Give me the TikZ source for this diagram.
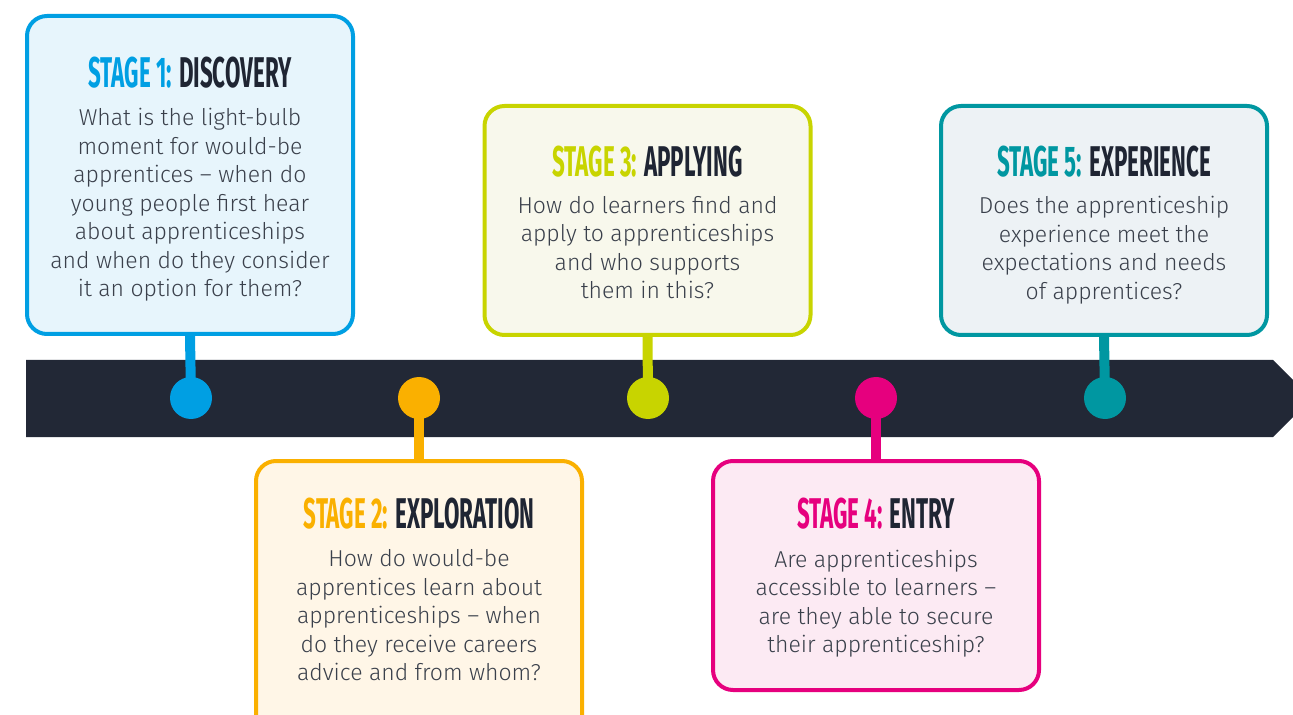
\documentclass[tikz,border=0pt]{standalone}
\usepackage{fontspec}
\usepackage{xcolor}
\usetikzlibrary{backgrounds}
\usetikzlibrary{calc}
\newfontfamily\stgfont[FakeStretch=0.52]{Fira Sans}
\newfontfamily\stgbody{Fira Sans Light}
\definecolor{stgbar}{HTML}{222836}
\definecolor{stgtext}{HTML}{3A404B}
\definecolor{stgdark}{HTML}{1F2533}
\definecolor{stgblue}{HTML}{009FE3}
\definecolor{stgbluebg}{HTML}{E7F5FC}
\definecolor{stgorange}{HTML}{FAB000}
\definecolor{stgorangebg}{HTML}{FFF6E7}
\definecolor{stglime}{HTML}{C8D400}
\definecolor{stglimebg}{HTML}{F8F8EC}
\definecolor{stgpink}{HTML}{E6007E}
\definecolor{stgpinkbg}{HTML}{FCEAF3}
\definecolor{stgteal}{HTML}{0097A1}
\definecolor{stgtealbg}{HTML}{EDF2F5}
\newcommand{\stgw}{163pt}
\newcommand{\stghtall}{159pt}
\newcommand{\stghlow}{114.5pt}
\newcommand{\stgdot}{21pt}
\newcommand{\stgtitle}[3]{{\color{#1}STAGE #2:} {\color{stgdark}#3}}

\begin{document}
\begin{tikzpicture}[x=0.5pt,y=-0.5pt,
    stage/.style={draw=#1,fill=#1bg,line width=2pt,rounded corners=10pt,
      minimum width=\stgw,inner sep=0pt},
    dot/.style={circle,fill=#1,minimum size=\stgdot,inner sep=0pt},
    stem/.style={draw=#1,line width=5pt},
    ttl/.style={anchor=base,inner sep=0pt,
      font=\stgfont\bfseries\fontsize{21.5}{21.5}\selectfont},
    body/.style={anchor=north,inner sep=0pt,align=center,text=stgtext,
      font=\stgbody\fontsize{11.5}{14.25}\selectfont,
      execute at begin node=\strut}]
    \useasboundingbox (0,0) rectangle (1293,715);

    \node (s1) at (190,175) [stage=stgblue,minimum height=\stghtall] {};
    \node (s2) at (419,620) [stage=stgorange,minimum height=\stghtall] {};
    \node (s3) at (647.5,220.5) [stage=stglime,minimum height=\stghlow] {};
    \node (s4) at (876,575.5) [stage=stgpink,minimum height=\stghlow] {};
    \node (s5) at (1104,220.5) [stage=stgteal,minimum height=\stghlow] {};

    \node (d1) at (191,398) [dot=stgblue] {};
    \node (d2) at (419,398) [dot=stgorange] {};
    \node (d3) at (648,398) [dot=stglime] {};
    \node (d4) at (876,398) [dot=stgpink] {};
    \node (d5) at (1105,398) [dot=stgteal] {};

    \node (t1) at (190,88) [ttl] {\stgtitle{stgblue}{1}{DISCOVERY}};
    \node (t2) at (419,528) [ttl] {\stgtitle{stgorange}{2}{EXPLORATION}};
    \node (t3) at (647.5,177) [ttl] {\stgtitle{stglime}{3}{APPLYING}};
    \node (t4) at (876,528) [ttl] {\stgtitle{stgpink}{4}{ENTRY}};
    \node (t5) at (1104,177) [ttl] {\stgtitle{stgteal}{5}{EXPERIENCE}};

    \node (b1) at ($(t1.base)+(0,20)$) [body] {What is the light-bulb\\
      moment for would-be\\ apprentices – when do\\
      young people first hear\\ about apprenticeships\\
      and when do they consider\\ it an option for them?};
    \node (b2) at ($(t2.base)+(0,21.5)$) [body] {How do would-be\\
      apprentices learn about\\ apprenticeships – when\\
      do they receive careers\\ advice and from whom?};
    \node (b3) at ($(t3.base)+(0,19)$) [body] {How do learners find and\\
      apply to apprenticeships\\ and who supports\\ them in this?};
    \node (b4) at ($(t4.base)+(0,21.5)$) [body] {Are apprenticeships\\
      accessible to learners –\\ are they able to secure\\
      their apprenticeship?};
    \node (b5) at ($(t5.base)+(0,19)$) [body] {Does the apprenticeship\\
      experience meet the\\ expectations and needs\\ of apprentices?};

    \begin{scope}[on background layer]
      \fill[stgbar] (26,360) -- (1273,360) -- (1311.5,398.5)
        -- (1273,437) -- (26,437) -- cycle;
      \draw[stem=stgblue] (s1.south) -- (d1.center);
      \draw[stem=stgorange] (s2.north) -- (d2.center);
      \draw[stem=stglime] (s3.south) -- (d3.center);
      \draw[stem=stgpink] (s4.north) -- (d4.center);
      \draw[stem=stgteal] (s5.south) -- (d5.center);
    \end{scope}
  \end{tikzpicture}
\end{document}
